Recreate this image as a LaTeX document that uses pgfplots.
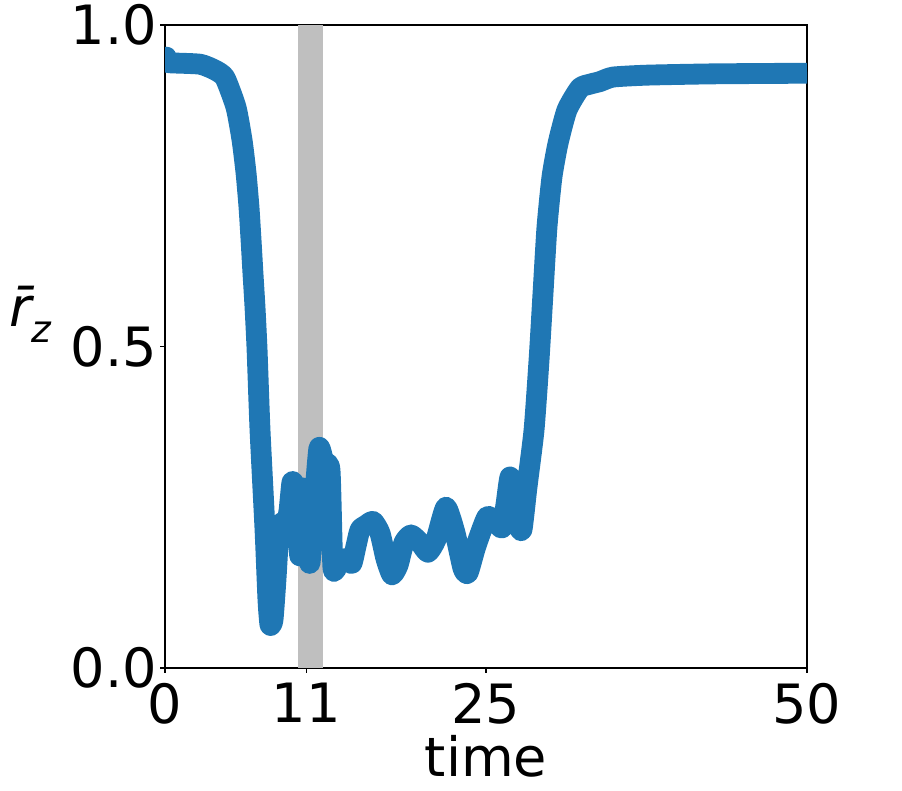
\documentclass[border=0pt]{standalone}
\usepackage{fontspec}
\setmainfont{DejaVu Sans}
\usepackage{pgfplots}
\pgfplotsset{compat=1.18}

\definecolor{mplblue}{HTML}{1F77B4}
\definecolor{bandgray}{HTML}{BFBFBF}

\begin{document}
\begin{tikzpicture}
\begin{axis}[
  scale only axis,
  width=462.24bp, height=462.96bp,
  xmin=0, xmax=50, ymin=0, ymax=1,
  xtick={0,11,25,50},
  ytick={0,0.5,1},
  yticklabels={0.0,0.5,1.0},
  /pgf/number format/assume math mode=true,
  tick align=outside,
  xtick pos=bottom, ytick pos=left,
  major tick length=3.5bp,
  every tick/.style={black, line width=0.8bp},
  axis line style={line width=0.8bp},
  tick label style={font=\fontsize{39bp}{44bp}\selectfont},
  xticklabel style={inner sep=0pt, yshift=-7bp},
  yticklabel style={inner sep=0pt, xshift=-2bp},
  xlabel={time},
  xlabel style={font=\fontsize{39bp}{44bp}\selectfont, at={(axis description cs:0.5,-0.138)}, anchor=center},
  ylabel={\itshape\=r\raisebox{-0.3em}{\fontsize{27bp}{30bp}\selectfont\itshape z}},
  ylabel style={font=\fontsize{39bp}{44bp}\selectfont, rotate=-90, at={(axis description cs:-0.21,0.55)}, anchor=center},
]
% shaded interval
\addplot[draw=none, fill=bandgray] coordinates {(10.35,0) (12.3,0) (12.3,1) (10.35,1)} -- cycle;

% mean r_z over time
\addplot[mplblue, line width=15bp, line join=round, smooth, tension=0.35] coordinates {
(0,0.942) (0.1,0.950) (0.2,0.942) (0.55,0.941) (2.73,0.939) (3.89,0.930)
(4.67,0.918) (5.53,0.872) (6.00,0.821) (6.31,0.770) (6.54,0.717)
(6.70,0.666) (6.85,0.614) (7.01,0.561) (7.17,0.495) (7.40,0.370)
(7.79,0.215) (8.02,0.106) (8.18,0.067) (8.41,0.075) (8.64,0.137)
(8.88,0.215) (9.11,0.226) (9.42,0.222) (9.66,0.245) (9.89,0.289)
(10.12,0.280) (10.36,0.215) (10.51,0.175) (10.75,0.280) (10.98,0.200)
(11.29,0.163) (11.60,0.250) (11.99,0.342) (12.38,0.320) (12.85,0.308)
(13.08,0.156) (13.47,0.160) (13.86,0.170) (14.17,0.168) (14.56,0.163)
(14.88,0.190) (15.19,0.215) (15.65,0.222) (16.20,0.228) (16.74,0.210)
(17.21,0.170) (17.68,0.145) (18.15,0.160) (18.61,0.195) (19.16,0.207)
(19.86,0.195) (20.48,0.180) (21.11,0.200) (21.88,0.250) (22.59,0.210)
(23.21,0.155) (23.60,0.148) (24.22,0.190) (25.08,0.235) (25.70,0.228)
(26.25,0.218) (26.56,0.255) (26.87,0.297) (27.18,0.270) (27.49,0.225)
(27.80,0.215) (28.19,0.281) (28.74,0.370) (29.13,0.479) (29.44,0.583)
(29.75,0.686) (30.14,0.764) (30.61,0.816) (31.31,0.868) (32.32,0.902)
(33.10,0.908) (33.88,0.912) (34.89,0.919) (37.54,0.922) (42.68,0.924)
(50.0,0.925)
};
\end{axis}
\pgfresetboundingbox
\path ([shift={(-118.8bp,-87.84bp)}]current axis.south west)
  rectangle ([shift={(68.4bp,18bp)}]current axis.north east);
\end{tikzpicture}
\end{document}
